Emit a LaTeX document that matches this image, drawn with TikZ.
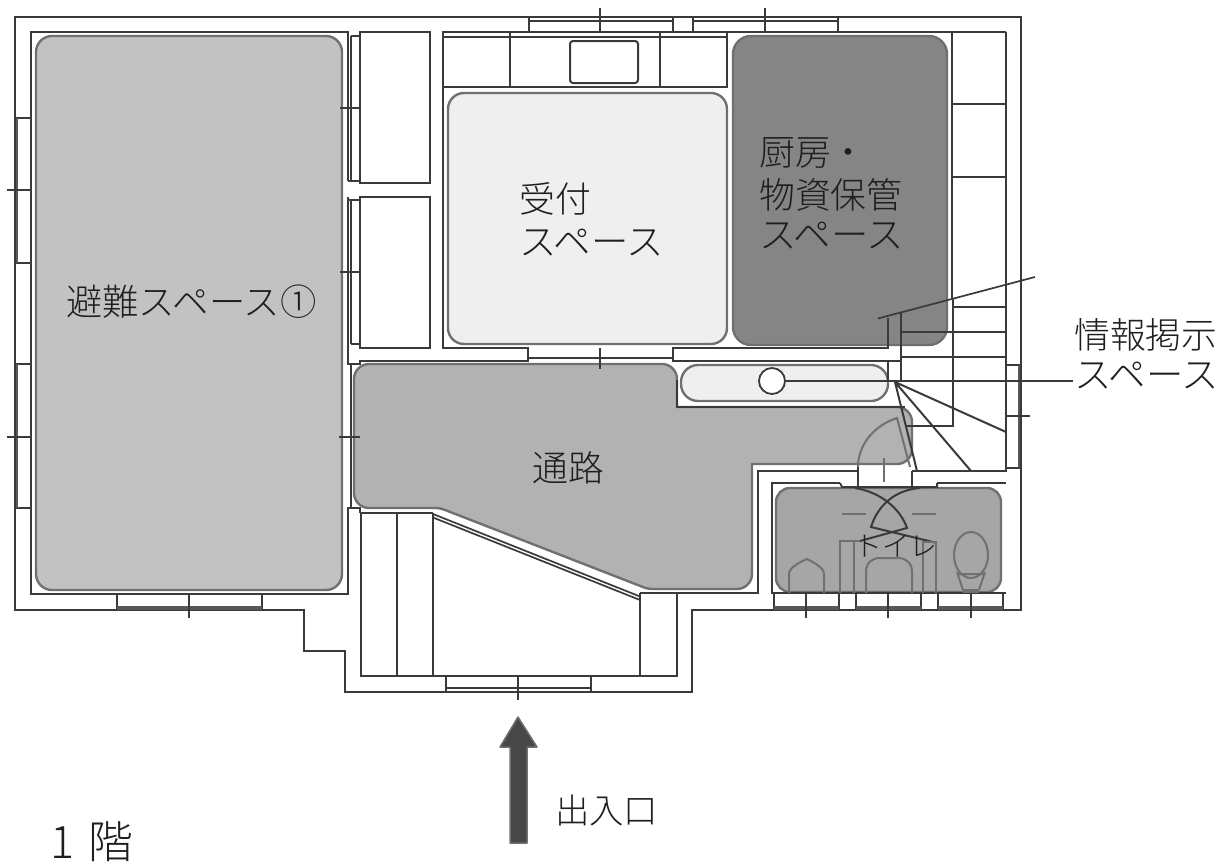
\documentclass[tikz,border=0pt]{standalone}
\usepackage{fontspec}
\setmainfont{Noto Sans CJK JP}[UprightFont=* Light]
\tikzset{
  wall/.style={draw=linec,line width=2bp,line join=miter},
  thin wall/.style={draw=linec,line width=1.7bp},
  thickw/.style={draw=linec!85,line width=3.4bp},
  room/.style={draw=edgec,line width=2.4bp,rounded corners=#1},
  lab/.style={text=textc,font=\fontsize{#1}{#1}\selectfont,inner sep=0pt,anchor=west},
}
\definecolor{linec}{HTML}{3A3A3A}
\definecolor{edgec}{HTML}{707070}
\definecolor{textc}{HTML}{1f1f1f}
\definecolor{cleft}{HTML}{C2C2C2}
\definecolor{cpass}{HTML}{B2B2B2}
\definecolor{ckit}{HTML}{858585}
\definecolor{crec}{HTML}{EFEFF0}
\definecolor{ctoil}{HTML}{A6A6A6}
\begin{document}
\begin{tikzpicture}[x=1bp,y=-1bp]
\useasboundingbox (0,0) rectangle (1232,864);
% rooms
\path[room=16bp,fill=cleft] (36,36) rectangle (342,590);
\path[room=16bp,fill=crec] (448,93) rectangle (727,344);
\path[room=18bp,fill=ckit] (733,36) rectangle (947,345);
\path[room=17bp,fill=crec] (681,365) rectangle (888,401);
\path[room=15bp,fill=cpass] (500,364) -- (677,364) [sharp corners] -- (677,407) [rounded corners=15bp] -- (912,407) -- (912,464) [sharp corners] -- (752,464) [rounded corners=15bp]
  -- (752,589) [rounded corners=4bp] -- (648,589) -- (440,508) [rounded corners=15bp] -- (354,508) -- (354,364) -- cycle;
\path[room=14bp,fill=ctoil] (776,488) rectangle (1001,592);
% outer wall
\draw[wall] (15,17) -- (1021,17) -- (1021,610) -- (692,610) -- (692,692) -- (345,692) -- (345,651)
  -- (304,651) -- (304,610) -- (15,610) -- cycle;
% left room wall
\draw[wall] (348,181) -- (348,32) -- (31,32) -- (31,594) -- (348,594) -- (348,508) -- (360,508) -- (360,513);
\draw[wall] (348,197) -- (348,364) -- (360,364) -- (360,361) -- (528,361) -- (528,348) -- (443,348) -- (443,32) -- (727,32);
\draw[wall] (351,36) -- (351,181) (351,36) -- (360,36) (348,181) -- (360,181);
\draw[wall] (351,200) -- (351,344) (348,200) -- (360,200) (351,344) -- (360,344) (351,364) -- (351,508);
% closets
\draw[wall] (360,32) rectangle (430,183);
\draw[wall] (360,197) rectangle (430,348);
% side windows
\draw[wall] (15,118) -- (31,118) (15,263) -- (31,263) (15,364) -- (31,364) (15,508) -- (31,508);
\draw[thickw,line width=2.8bp] (17,118) -- (17,263) (17,364) -- (17,508);
\draw[thin wall] (7,190) -- (31,190) (7,437) -- (31,437);
\draw[thin wall] (340,108) -- (360,108) (340,272) -- (360,272) (339,437) -- (360,437);
% bottom window
\draw[wall] (117,594) -- (117,609) (262,594) -- (262,609);
\draw[thickw] (117,608) -- (262,608);
\draw[thin wall] (189,594) -- (189,618);
% top area
\draw[wall] (443,37) -- (727,37) (443,87) -- (727,87) -- (727,32);
\draw[wall] (510,32) -- (510,87) (660,32) -- (660,87);
\draw[wall,rounded corners=3bp] (570,41) rectangle (638,83);
\draw[wall] (529,21) -- (673,21) (693,21) -- (838,21);
\draw[wall] (529,17) -- (529,32) (673,17) -- (673,32) (693,17) -- (693,32) (838,17) -- (838,32);
\draw[wall] (727,32) -- (1006,32);
\draw[thin wall] (600,8) -- (600,32) (765,8) -- (765,32);
% right column and stairs
\draw[wall] (952,32) -- (952,298);
\draw[wall] (1006,32) -- (1006,471) -- (912,471);
\draw[wall] (952,104) -- (1006,104) (952,177) -- (1006,177);
\draw[wall] (953,298) -- (953,426) -- (907,426);
\draw[thin wall] (953,307) -- (1006,307) (901,332) -- (1006,332) (901,357) -- (1006,357);
\draw[wall] (888,318) -- (888,348) -- (673,348) -- (673,361) -- (888,361) -- (888,380);
\draw[wall] (901,312) -- (901,381);
\draw[wall] (888,361) -- (901,361);
\draw[thin wall] (528,358) -- (673,358);
\draw[thin wall] (600,348) -- (600,369);
\coordinate (breakL) at (878,318.5);
\coordinate (breakR) at (1035,277);
\draw[thin wall] (breakL) -- (breakR);
\coordinate (fan) at (895,382);
\draw[wall] (fan) -- (1006,432) (fan) -- (971,471) (fan) -- (917,471);
% right window
\draw[wall] (1006,365) -- (1021,365) (1006,468) -- (1021,468);
\draw[thickw,line width=2.8bp] (1019,365) -- (1019,468);
\draw[thin wall] (1006,416) -- (1030,416);
% passage walls
\draw[wall] (677,380) -- (677,407) -- (905,407);
\draw[wall] (858,471) -- (758,471) -- (758,593) -- (640,593);
% entrance
\draw[wall] (361,513) -- (433,513) (361,513) -- (361,676) -- (677,676) -- (677,593);
\draw[wall] (397,513) -- (397,676) (433,513) -- (433,676) (640,593) -- (640,676);
\draw[thin wall] (433,514) -- (640,596.5) (433,517.5) -- (640,600);
\draw[wall] (446,676) -- (446,692) (591,676) -- (591,692);
\draw[wall] (446,688) -- (591,688);
\draw[thin wall] (518,676) -- (518,700);
% toilet room
\draw[wall] (840,483) -- (772,483) -- (772,593) -- (1006,593) (937,483) -- (1006,483);
\draw[wall] (840,483) -- (842,487) -- (937,487) -- (937,483);
\draw[wall] (858,487) -- (858,467) (912,487) -- (912,471);
\draw[wall,edgec] (858,467) .. controls (858,444) and (875,425) .. (897,418) -- (910,467);
\draw[wall,edgec] (884,458) -- (884,482);
\draw[wall] (855,488) .. controls (880,492) and (900,508) .. (907,528) -- (860,541);
\draw[wall] (920,488) .. controls (895,490) and (878,505) .. (871,527) -- (937,543);
\draw[wall,edgec] (842,514) -- (866,514) (912,514) -- (936,514);
\draw[wall,edgec] (840,593) -- (840,541) -- (860,541) (854,541) -- (854,593);
\draw[wall,edgec] (923,593) -- (923,542) -- (937,542) (936,542) -- (936,593);
\draw[wall,edgec] (789,593) -- (789,574) .. controls (789,568) and (798,563) .. (807,559) .. controls (815,563) and (824,568) .. (824,574) -- (824,593);
\draw[wall,edgec] (866,593) -- (866,572) .. controls (866,563) and (872,558) .. (880,558) -- (898,558) .. controls (906,558) and (912,563) .. (912,572) -- (912,593);
\draw[wall,edgec] (971,555) ellipse [x radius=17,y radius=23];
\draw[wall,edgec] (957,572) -- (963,590) (985,572) -- (979,590) (957,574) -- (985,574);
\draw[thickw,edgec] (963,591) -- (979,591);
% toilet windows
\draw[wall] (774,593) -- (774,609) (839,593) -- (839,609) (856,593) -- (856,609) (921,593) -- (921,609) (938,593) -- (938,609) (1003,593) -- (1003,609);
\draw[thickw] (774,608) -- (839,608) (856,608) -- (921,608) (938,608) -- (1003,608);
\draw[thin wall] (806,593) -- (806,618) (888,593) -- (888,618) (971,593) -- (971,618);
% info marker and leader
\coordinate (leaderEnd) at (1073,381);
\node[circle,draw=linec,line width=1.8bp,fill=white,minimum size=26bp,inner sep=0pt] (marker) at (772,381) {};
\draw[wall,line width=2.2bp] (marker) -- (leaderEnd);
% labels
\node[lab=36.5] (t1) at (66,302) {避難スペース①};
\node[lab=36] (t2) at (519,199) {受付};
\node[lab=37.5] (t3) at (519,243) {スペース};
\node[lab=36] (t4) at (759,153) {厨房・};
\node[lab=36] (t5) at (759,195) {物資保管};
\node[lab=37.5] (t6) at (759,236) {スペース};
\node[lab=36] (t7) at (532,468) {通路};
\node[lab=36] (t8) at (1074,335) {情報掲示};
\node[lab=37.5] (t9) at (1074,376) {スペース};
\node[lab=34.5] (t10) at (555,810) {出入口};
\node[lab=28] (t11) at (854,546) {トイレ};
\node[lab=45] (t12) at (50,842) {1\hspace{14pt}階};
\fill[fill=black!72,draw=edgec,line width=1.5bp,line join=round] (518,717) -- (537,747) -- (527,747) -- (527,843) -- (510,843) -- (510,747) -- (500,747) -- cycle;
\end{tikzpicture}
\end{document}
